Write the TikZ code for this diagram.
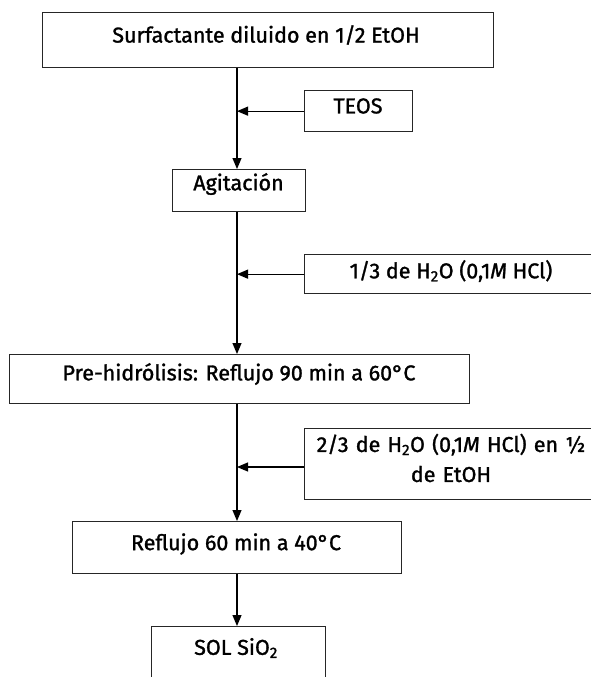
\documentclass[tikz,border=0pt]{standalone}
\usepackage{fontspec}
\setmainfont{Fira Sans}[FakeBold=1.3]
\usetikzlibrary{arrows.meta}
\tikzset{
  box/.style={draw=black!85, line width=1.3pt, rectangle, inner sep=0pt, anchor=north west},
  lbl/.style={inner sep=0pt, font=\fontsize{21.5}{30}\selectfont, align=center},
  arr/.style={draw=black, line width=1.2pt, -{Triangle[length=11pt,width=9pt]}},
}
\newcommand{\boxat}[5]{% name, x1, y1, x2, y2
  \node[box, minimum width={(#4-#2)*1pt}, minimum height={(#5-#3)*1pt}] (#1) at (#2,#3) {};}
\begin{document}
\begin{tikzpicture}[x=1pt,y=-1pt]
\useasboundingbox (0,0) rectangle (591,677);
\clip (0,0) rectangle (591,677);
\fill[white] (0,0) rectangle (591,677);
\coordinate (spine) at (237,0);
% boxes
\boxat{b1}{42}{12}{493}{67}
\boxat{teos}{304}{90}{412}{131}
\boxat{agit}{172}{169}{305}{211}
\boxat{h1}{304}{254}{598}{293}
\boxat{pre}{9}{354}{469}{403}
\boxat{h2}{304}{428}{598}{499}
\boxat{ref}{72}{521}{401}{573}
\boxat{sol}{151}{626}{325}{720}
% labels
\node[lbl] (t1) at (266,35) {Surfactante diluido en 1/2 EtOH};
\node[lbl] (t2) at (358,106) {TEOS};
\node[lbl] (t3) at (238.5,184) {Agitación};
\node[lbl] (t4) at (451,271) {1/3 de H\textsubscript{2}O (0,1\textit{M} HCl)};
\node[lbl] (t5) at (239,374) {Pre-hidrólisis: Reflujo 90 min a 60°C};
\node[lbl, text width=290pt] (t6) at (451,458) {2/3 de H\textsubscript{2}O (0,1\textit{M} HCl) en ½\\ de EtOH};
\node[lbl] (t7) at (236,544) {Reflujo 60 min a 40°C};
\node[lbl] (t8) at (236,648) {SOL SiO\textsubscript{2}};
% connectors
\draw[arr] (b1.south -| spine) -- (agit.north -| spine);
\draw[arr] (teos.west) -- (teos.west -| spine);
\draw[arr] (agit.south -| spine) -- (pre.north -| spine);
\draw[arr] (h1.west) -- (h1.west -| spine);
\draw[arr] (pre.south -| spine) -- (ref.north -| spine);
\draw[arr] (h2.west |- 0,467) -- (spine |- 0,467);
\draw[arr] (ref.south -| spine) -- (sol.north -| spine);
\end{tikzpicture}
\end{document}
